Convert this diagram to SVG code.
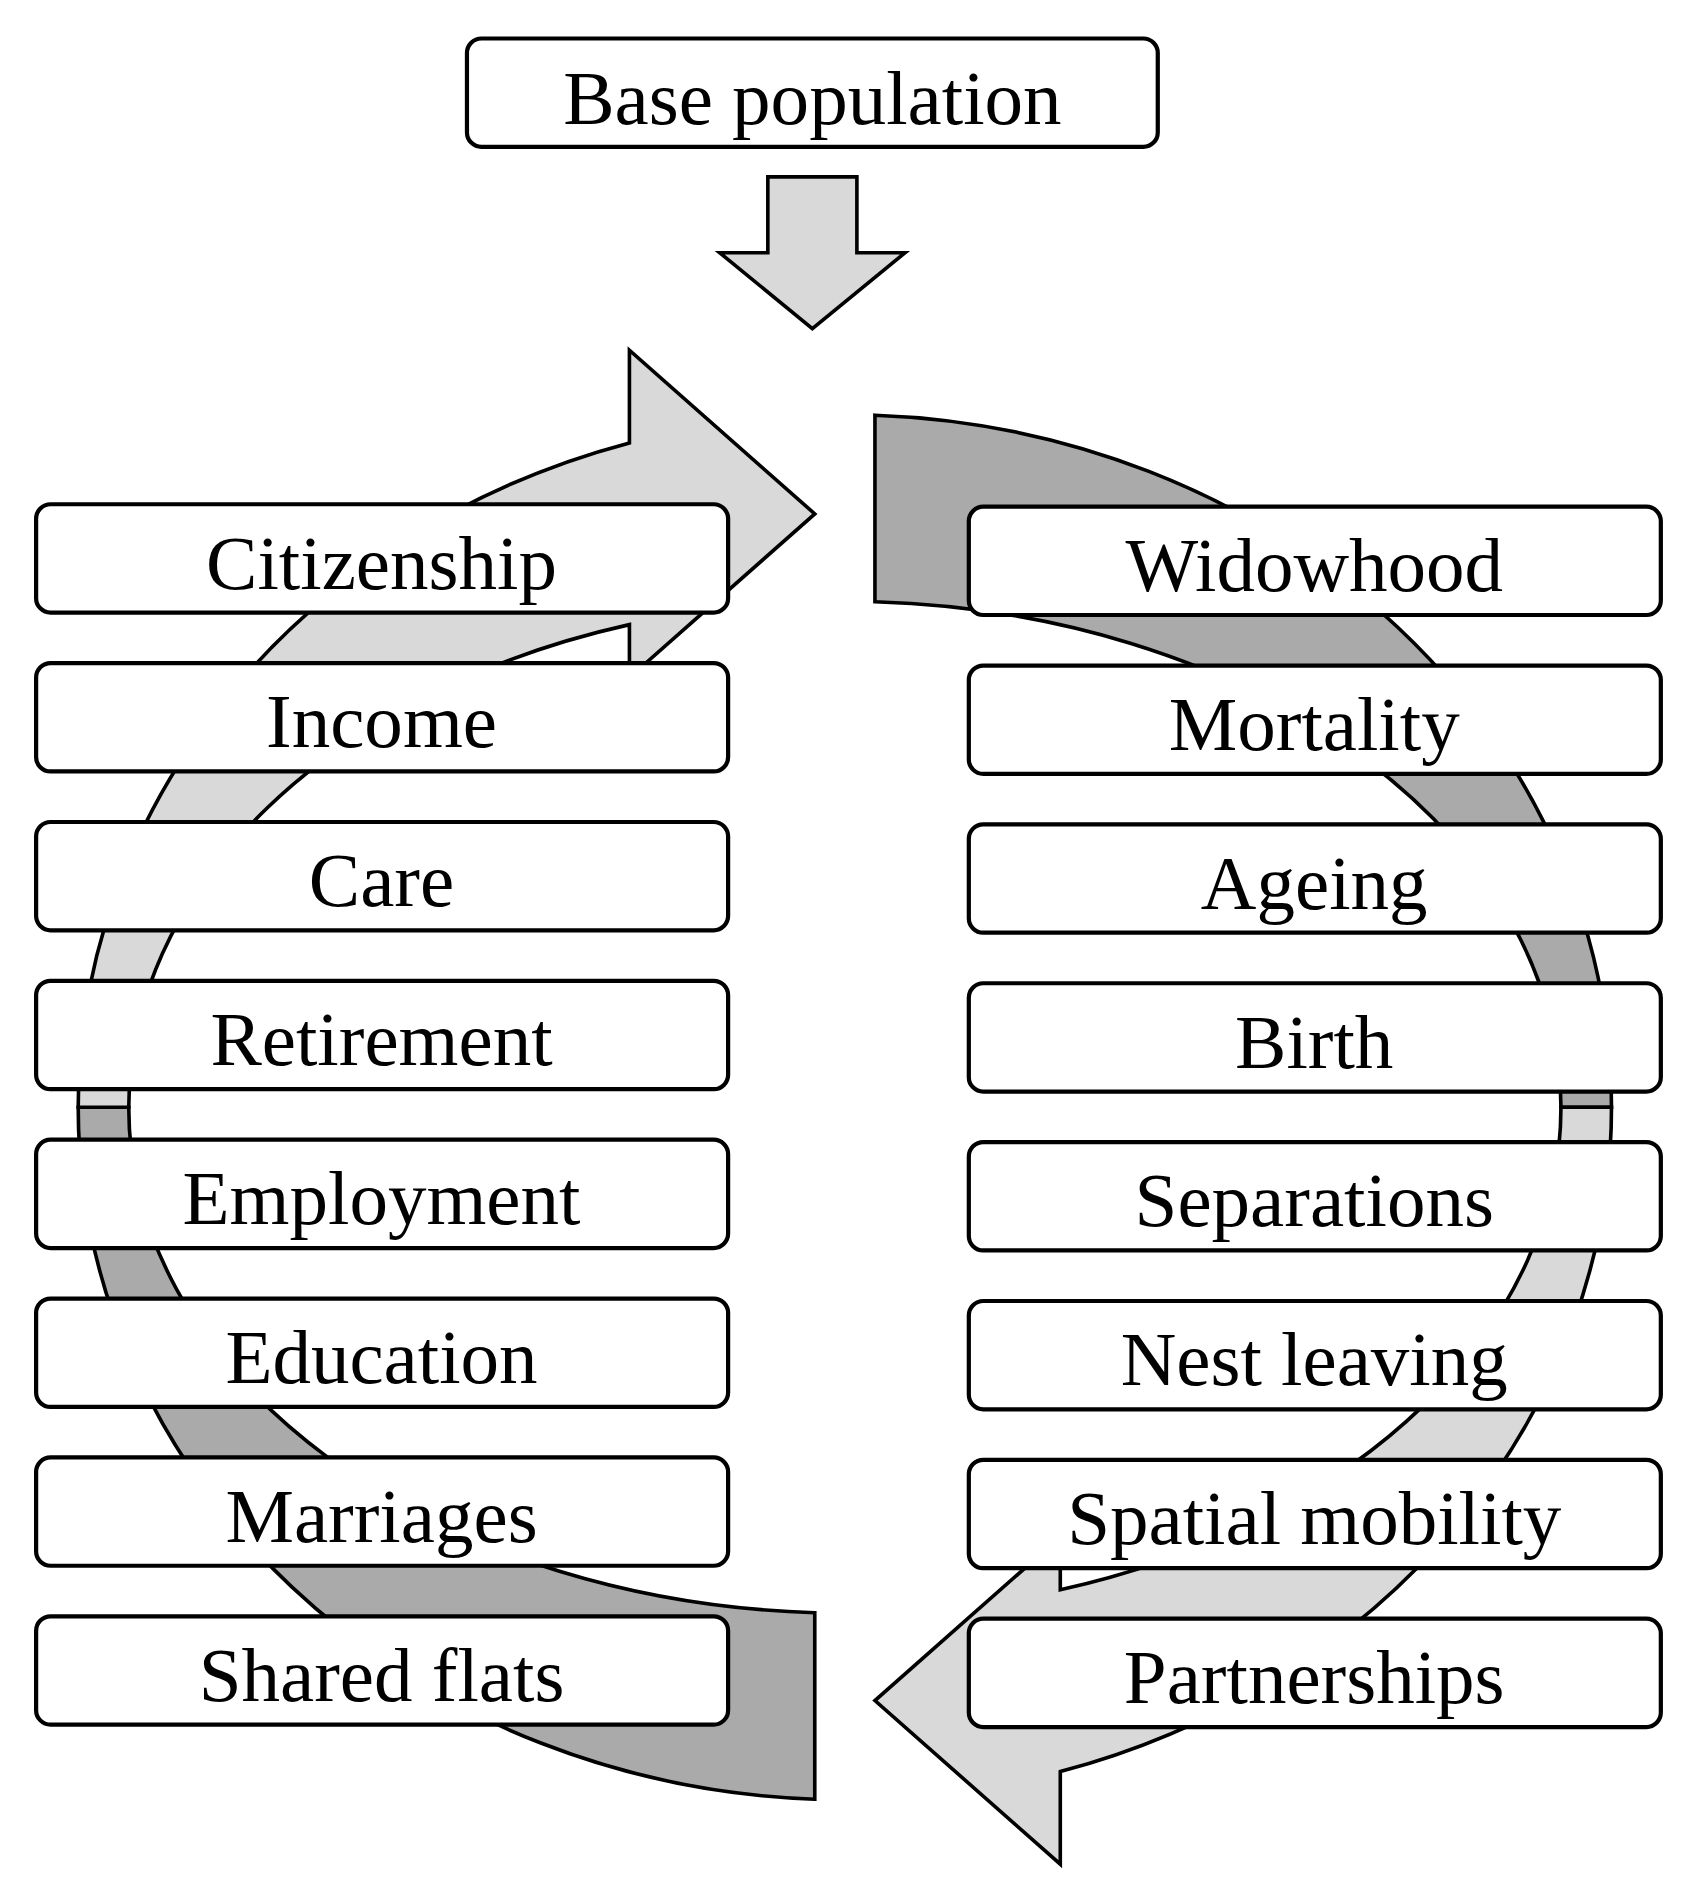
<svg xmlns="http://www.w3.org/2000/svg" width="1697" height="1896" viewBox="0 0 1697 1896">
<style>
.box{fill:#fff;stroke:#000;stroke-width:3.5}
.t{font-family:"Liberation Serif","Times New Roman",serif;font-size:64px;text-anchor:middle;fill:#000}
.lt{fill:#d9d9d9;stroke:#000;stroke-width:3;stroke-linejoin:miter}
.dk{fill:#aaaaaa;stroke:#000;stroke-width:3}
</style>
<rect width="1697" height="1896" fill="#fff"/>
<g transform="scale(1.2035)">
<g id="connectors">
<path class="lt" d="M638,147 H712 V210 H752 L675,273 L598,210 H638 Z"/>
<path class="dk" d="M65,920 A637,575 0 0 0 677,1495 L677,1340 A595,420 0 0 1 107,920 Z"/>
<path class="lt" d="M65,920 A637,575 0 0 1 523,368 L523,291 L677,427 L523,563 L523,519 A595,420 0 0 0 107,920 Z"/>
<path class="dk" d="M727,345 A637,575 0 0 1 1339,920 L1297,920 A595,420 0 0 0 727,500 Z"/>
<path class="lt" d="M1339,920 A637,575 0 0 1 881,1472 L881,1549 L727,1413 L881,1277 L881,1321 A595,420 0 0 0 1297,920 Z"/>
</g>
<g id="base"><rect class="box" x="388" y="32" width="574" height="90" rx="12"/><text class="t" x="675" y="103">Base population</text></g>
<g id="citizenship"><rect class="box" x="30" y="419" width="575" height="90" rx="12"/><text class="t" x="317" y="489">Citizenship</text></g>
<g id="income"><rect class="box" x="30" y="551" width="575" height="90" rx="12"/><text class="t" x="317" y="621">Income</text></g>
<g id="care"><rect class="box" x="30" y="683" width="575" height="90" rx="12"/><text class="t" x="317" y="753">Care</text></g>
<g id="retirement"><rect class="box" x="30" y="815" width="575" height="90" rx="12"/><text class="t" x="317" y="885">Retirement</text></g>
<g id="employment"><rect class="box" x="30" y="947" width="575" height="90" rx="12"/><text class="t" x="317" y="1017">Employment</text></g>
<g id="education"><rect class="box" x="30" y="1079" width="575" height="90" rx="12"/><text class="t" x="317" y="1149">Education</text></g>
<g id="marriages"><rect class="box" x="30" y="1211" width="575" height="90" rx="12"/><text class="t" x="317" y="1281">Marriages</text></g>
<g id="sharedflats"><rect class="box" x="30" y="1343" width="575" height="90" rx="12"/><text class="t" x="317" y="1413">Shared flats</text></g>
<g id="widowhood"><rect class="box" x="805" y="421" width="575" height="90" rx="12"/><text class="t" x="1092" y="491">Widowhood</text></g>
<g id="mortality"><rect class="box" x="805" y="553" width="575" height="90" rx="12"/><text class="t" x="1092" y="623">Mortality</text></g>
<g id="ageing"><rect class="box" x="805" y="685" width="575" height="90" rx="12"/><text class="t" x="1092" y="755">Ageing</text></g>
<g id="birth"><rect class="box" x="805" y="817" width="575" height="90" rx="12"/><text class="t" x="1092" y="887">Birth</text></g>
<g id="separations"><rect class="box" x="805" y="949" width="575" height="90" rx="12"/><text class="t" x="1092" y="1019">Separations</text></g>
<g id="nestleaving"><rect class="box" x="805" y="1081" width="575" height="90" rx="12"/><text class="t" x="1092" y="1151">Nest leaving</text></g>
<g id="spatialmobility"><rect class="box" x="805" y="1213" width="575" height="90" rx="12"/><text class="t" x="1092" y="1283">Spatial mobility</text></g>
<g id="partnerships"><rect class="box" x="805" y="1345" width="575" height="90" rx="12"/><text class="t" x="1092" y="1415">Partnerships</text></g>
</g>
</svg>
